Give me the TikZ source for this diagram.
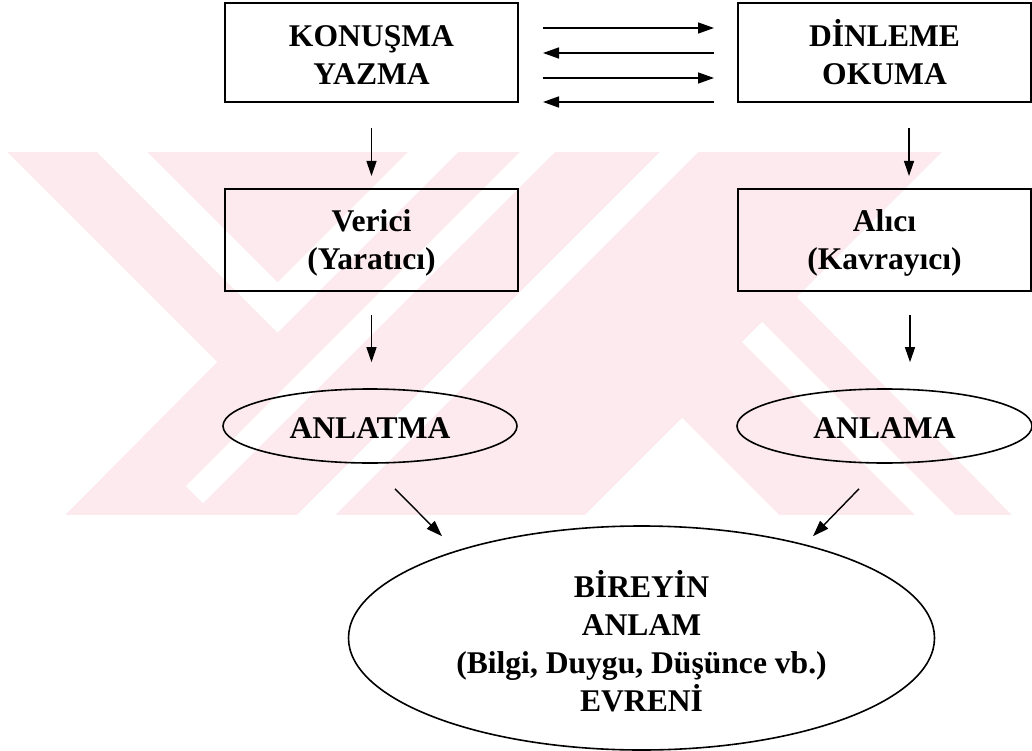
\documentclass[tikz,border=0pt]{standalone}
\usepackage{fontspec}
\setmainfont{Liberation Serif}
\usetikzlibrary{arrows.meta,calc,shapes.geometric}
\definecolor{wm}{RGB}{253,234,238}
\begin{document}
\begin{tikzpicture}[x=1pt,y=-1pt,
  txt/.style={align=center, inner sep=0pt},
  box/.style={txt, draw, line width=2pt, minimum width=293pt, minimum height=99pt,
    font=\fontsize{31.6}{38}\selectfont\bfseries},
  oval/.style={txt, ellipse, draw, line width=1.6pt,
    font=\fontsize{31.6}{38}\selectfont\bfseries},
  harr/.style={line width=1.6pt, -{Triangle[length=16pt,width=11pt]}},
  varr/.style={line width=1.2pt, -{Triangle[length=15pt,width=10pt]}},
  darr/.style={line width=1.4pt, -{Triangle[length=16pt,width=11pt]}}]
\useasboundingbox (0,0) rectangle (1032,751);
% watermark
\fill[wm] (0,152) rectangle (1032,515);
\fill[white] (0,152) -- (7,152) -- (217,362) -- (65,515) -- (0,515) -- cycle;
\fill[white] (97,152) -- (147,152) -- (277.5,282.5) -- (408,152) -- (458,152) -- (277.5,332.5) -- cycle;
\fill[white] (520,152) -- (555,152) -- (203,503) -- (186,486) -- cycle;
\fill[white] (660,152) -- (698,152) -- (335,515) -- (297,515) -- cycle;
\fill[white] (682,418) -- (779,515) -- (585,515) -- cycle;
\fill[white] (942,152) -- (1032,152) -- (1032,515) -- (1012,515) -- (797,297) -- cycle;
\fill[white] (742,342) -- (762,322) -- (955,515) -- (915,515) -- cycle;
% nodes
\node[box, text height=67pt, text depth=2pt] (k) at (371.5,52.5) {KONUŞMA\\YAZMA};
\node[box, text height=67pt, text depth=2pt] (d) at (884.5,52.5) {DİNLEME\\OKUMA};
\node[box, minimum height=102pt, text height=60pt, text depth=2pt, font=\fontsize{31.6}{37}\selectfont\bfseries] (v) at (371.5,240) {Verici\\(Yaratıcı)};
\node[box, minimum height=102pt, text height=60pt, text depth=2pt, font=\fontsize{31.6}{37}\selectfont\bfseries] (a) at (884.5,240) {Alıcı\\(Kavrayıcı)};
\node[oval, minimum width=294pt, minimum height=74pt, text height=25pt, text depth=1pt] (anlat) at (370,426) {ANLATMA};
\node[oval, minimum width=295pt, minimum height=74pt, text height=25pt, text depth=1pt] (anla) at (884.5,426) {ANLAMA};
\node[oval, minimum width=586pt, minimum height=224pt, text height=148pt, text depth=2pt] (big) at (641.5,638) {BİREYİN\\ANLAM\\(Bilgi, Duygu, Düşünce vb.)\\EVRENİ};
% connectors
\draw[harr] ($(k.east)+(24pt,24.5pt)$) -- ($(d.west)+(-23pt,24.5pt)$);
\draw[harr] ($(d.west)+(-23pt,-0.5pt)$) -- ($(k.east)+(24pt,-0.5pt)$);
\draw[harr] ($(k.east)+(24pt,-25.5pt)$) -- ($(d.west)+(-23pt,-25.5pt)$);
\draw[harr] ($(d.west)+(-23pt,-49.5pt)$) -- ($(k.east)+(24pt,-49.5pt)$);
\draw[varr] ($(k.south)+(0,-25pt)$) -- ($(v.north)+(0,12pt)$);
\draw[varr] ($(d.south)+(24.5pt,-25pt)$) -- ($(a.north)+(24.5pt,12pt)$);
\draw[varr] ($(v.south)+(0,-23pt)$) -- ($(v.south |- anlat.north)+(0,26pt)$);
\draw[varr] ($(a.south)+(25.5pt,-23pt)$) -- ($(a.south |- anla.north)+(25.5pt,26pt)$);
\draw[darr] ($(anlat.south)+(25pt,-25pt)$) -- ($(big.north)+(-199.5pt,-11pt)$);
\draw[darr] ($(anla.south)+(-25.5pt,-25pt)$) -- ($(big.north)+(171.5pt,-11pt)$);
\end{tikzpicture}
\end{document}
